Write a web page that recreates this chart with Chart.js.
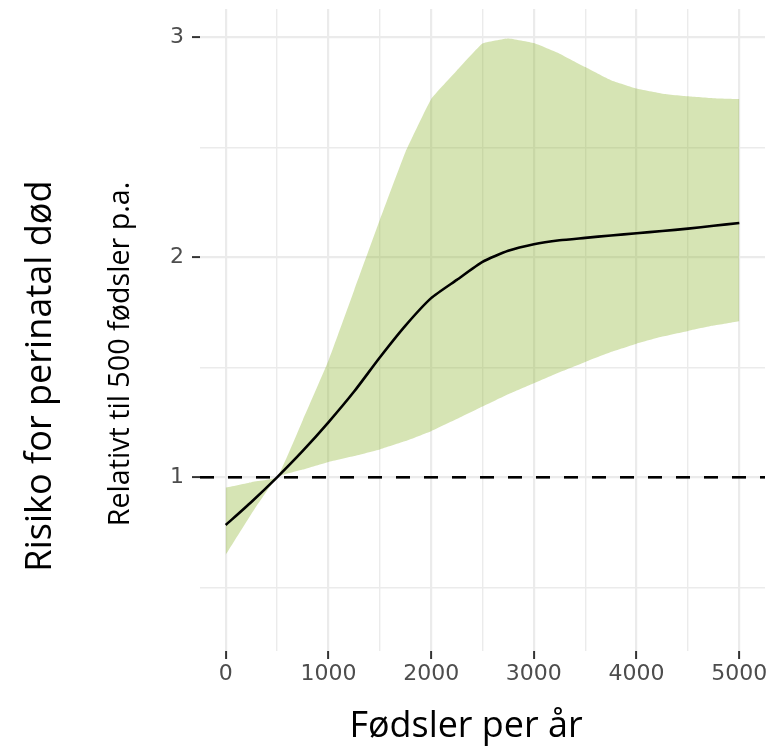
<!DOCTYPE html>
<html>
<head>
<meta charset="utf-8">
<script src="https://cdn.jsdelivr.net/npm/chart.js@4.4.1/dist/chart.umd.min.js"></script>
<style>
  html, body { margin: 0; padding: 0; background: #fff; }
  #wrap { width: 784px; height: 748px; }
</style>
</head>
<body>
<div id="wrap"><canvas id="chart"></canvas></div>
<script>
// data (births per year -> relative risk)
const births = [0, 250, 500, 750, 1000, 1250, 1500, 1750, 2000, 2250, 2500,
                2750, 3000, 3250, 3500, 3750, 4000, 4250, 4500, 4750, 5000];
const fit   = [0.783, 0.888, 1.0, 1.12, 1.25, 1.39, 1.545, 1.69, 1.815, 1.898, 1.98,
               2.03, 2.06, 2.078, 2.089, 2.10, 2.11, 2.12, 2.131, 2.144, 2.157];
const upper = [0.953, 0.978, 1.0, 1.26, 1.53, 1.85, 2.17, 2.48, 2.72, 2.85, 2.973,
               2.996, 2.975, 2.927, 2.866, 2.806, 2.768, 2.745, 2.733, 2.724, 2.72];
const lower = [0.647, 0.833, 1.0, 1.035, 1.07, 1.097, 1.127, 1.165, 1.21, 1.265, 1.322,
               1.378, 1.428, 1.478, 1.525, 1.57, 1.608, 1.64, 1.666, 1.69, 1.71];
const refLevel = 1;
const xTicks = [0, 500, 1000, 1500, 2000, 2500, 3000, 3500, 4000, 4500, 5000];
const yTicks = [0.5, 1, 1.5, 2, 2.5, 3];

const pts = arr => births.map((b, i) => ({ x: b, y: arr[i] }));

function drawFit(c, text, x, y, rot, w) {
  c.font = '40px "Open Sans"';
  const size = 40 * w / c.measureText(text).width;
  c.font = size.toFixed(1) + 'px "Open Sans"';
  c.save();
  c.translate(x, y);
  c.rotate(rot);
  c.fillText(text, 0, 0);
  c.restore();
}

const titles = {
  id: 'titles',
  afterDraw(chart) {
    const c = chart.ctx;
    c.save();
    c.fillStyle = '#000';
    c.textAlign = 'center';
    c.textBaseline = 'alphabetic';
    drawFit(c, 'Fødsler per år', 466, 737, 0, 233);
    drawFit(c, 'Risiko for perinatal død', 51, 376, -Math.PI / 2, 392);
    drawFit(c, 'Relativt til 500 fødsler p.a.', 129, 354, -Math.PI / 2, 345);
    c.restore();
  }
};

const major = v => Math.abs(v - Math.round(v)) < 1e-9;

new Chart(document.getElementById('chart'), {
  type: 'line',
  data: {
    datasets: [
      {
        data: pts(fit),
        borderColor: '#000',
        borderWidth: 2.6,
        pointRadius: 0,
        tension: 0.2,
        fill: false
      },
      {
        data: [{ x: -250, y: refLevel }, { x: 5250, y: refLevel }],
        borderColor: '#000',
        borderWidth: 2.6,
        borderDash: [14, 14],
        pointRadius: 0,
        fill: false
      },
      {
        data: pts(upper),
        borderWidth: 0,
        borderColor: 'rgba(0,0,0,0)',
        backgroundColor: 'rgba(138,178,41,0.35)',
        pointRadius: 0,
        tension: 0.1,
        fill: '+1'
      },
      {
        data: pts(lower),
        borderWidth: 0,
        borderColor: 'rgba(0,0,0,0)',
        pointRadius: 0,
        tension: 0.1,
        fill: false
      }
    ]
  },
  options: {
    responsive: true,
    maintainAspectRatio: false,
    animation: false,
    layout: { padding: { top: 9, right: 19, left: 0, bottom: 0 } },
    plugins: { legend: { display: false }, tooltip: { enabled: false } },
    scales: {
      x: {
        type: 'linear',
        min: -250,
        max: 5250,
        afterBuildTicks: s => { s.ticks = xTicks.map(v => ({ value: v })); },
        afterFit: s => { s.height = 97; s.paddingLeft = 0; s.paddingRight = 0; },
        border: { display: false },
        grid: {
          color: '#ebebeb',
          lineWidth: ctx => (ctx.tick && ctx.tick.value % 1000 === 0) ? 2.2 : 1.4,
          tickLength: 8,
          tickWidth: 2,
          tickColor: ctx => (ctx.tick && ctx.tick.value % 1000 === 0) ? '#333' : 'rgba(0,0,0,0)'
        },
        ticks: {
          autoSkip: false,
          maxRotation: 0,
          padding: 2,
          color: '#4d4d4d',
          font: { family: 'DejaVu Sans', size: 22 },
          callback: v => v % 1000 === 0 ? String(v) : ''
        }
      },
      y: {
        type: 'linear',
        min: 0.21,
        max: 3.13,
        afterBuildTicks: s => { s.ticks = yTicks.map(v => ({ value: v })); },
        afterFit: s => { s.width = 200; s.paddingTop = 0; s.paddingBottom = 0; },
        border: { display: false },
        grid: {
          color: '#ebebeb',
          lineWidth: ctx => (ctx.tick && major(ctx.tick.value)) ? 2.2 : 1.4,
          tickLength: 8,
          tickWidth: 2,
          tickColor: ctx => (ctx.tick && major(ctx.tick.value)) ? '#333' : 'rgba(0,0,0,0)'
        },
        ticks: {
          padding: 8,
          color: '#4d4d4d',
          font: { family: 'DejaVu Sans', size: 22 },
          callback: v => major(v) ? String(v) : ''
        }
      }
    }
  },
  plugins: [titles]
});
</script>
</body>
</html>
